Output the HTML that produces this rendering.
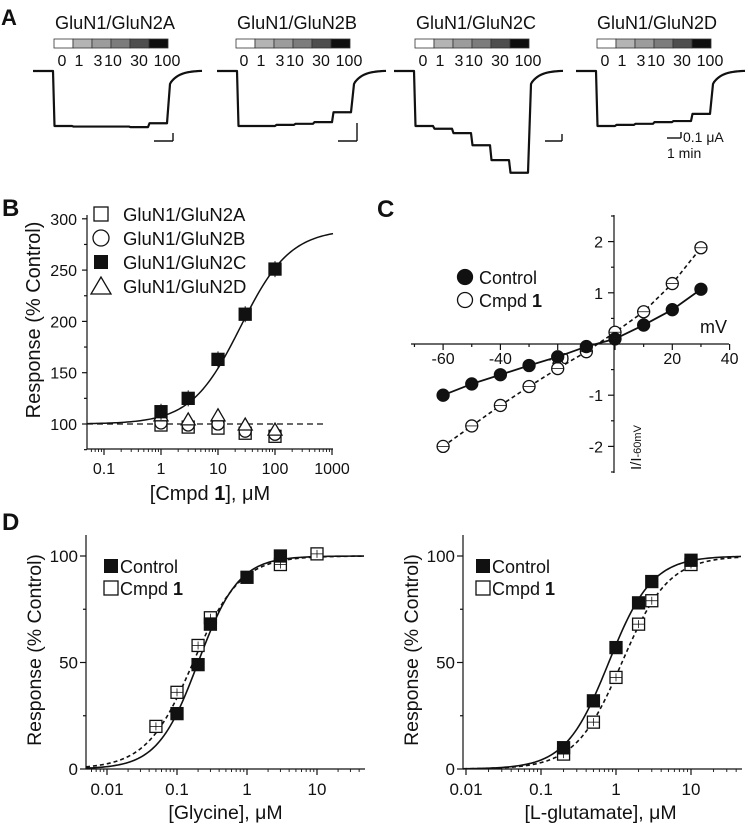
<!DOCTYPE html>
<html><head><meta charset="utf-8"><style>
body{margin:0;background:#fff}
svg{display:block;font-family:"Liberation Sans",Arial,sans-serif}
text{fill:#111}
</style></head><body>
<svg id="fig" width="748" height="827" viewBox="0 0 748 827"></svg>
<script>
// ---------- DATA ----------
const receptorNames=["GluN1/GluN2A","GluN1/GluN2B","GluN1/GluN2C","GluN1/GluN2D"];
const concLabels=["0","1","3","10","30","100"];
const traceLevels2A=[1,1.01,1.01,1.01,1.02,0.95];
const traceLevels2B=[1,1,0.98,0.96,0.93,0.75];
const traceLevels2C=[1,1.05,1.13,1.35,1.62,1.85];
const traceLevels2D=[1,0.98,0.96,0.93,0.91,0.78];

const doseB=[1,3,10,30,100];
const resp2A=[99,97,96,91,88];
const resp2B=[101,99,100,93,90];
const resp2C=[112,125,163,207,251];
const resp2D=[108,104,108,99,94];
const yTicksB=[100,150,200,250,300];
const xTicksB=[0.1,1,10,100,1000];
const xTickLabelsB=["0.1","1","10","100","1000"];
const fitB_top=290, fitB_ec50=25, fitB_n=1;

const voltC=[-60,-50,-40,-30,-20,-10,0,10,20,30];
const ivControl=[-1.0,-0.78,-0.6,-0.42,-0.25,-0.05,0.1,0.37,0.67,1.07];
const ivCmpd=[-2.0,-1.6,-1.2,-0.83,-0.48,-0.15,0.23,0.63,1.18,1.88];
const xTicksC=[-60,-40,-20,20,40];
const yTicksC=[-2,-1,1,2];

const glyConc=[0.1,0.2,0.3,1,3];
const glyControl=[26,49,68,90,100];
const glyCmpdConc=[0.05,0.1,0.2,0.3,3,10];
const glyCmpd=[20,36,58,71,96,101];
const gluConc=[0.2,0.5,1,2,3,10];
const gluControl=[10,32,57,78,88,98];
const gluCmpd=[7,22,43,68,79,96];
const fitGly=[[0.2,1.5],[0.17,1.3]];
const fitGlu=[[0.8,1.5],[1.2,1.4]];
const xTicksD=[0.01,0.1,1,10];
const xTickLabelsD=["0.01","0.1","1","10"];
const yTicksD=[0,50,100];

// ---------- HELPERS ----------
const NS="http://www.w3.org/2000/svg";
const svg=document.getElementById('fig');
function mk(tag,attrs,parent){const e=document.createElementNS(NS,tag);for(const k in attrs)e.setAttribute(k,attrs[k]);(parent||svg).appendChild(e);return e;}
function txt(s,x,y,size,anchor,parent,weight){const t=mk('text',{x:x,y:y,'font-size':size,'text-anchor':anchor||'start'},parent);if(weight)t.setAttribute('font-weight',weight);t.textContent=s;return t;}
function ln(x1,y1,x2,y2,parent,w,dash){const l=mk('line',{x1:x1,y1:y1,x2:x2,y2:y2,stroke:'#111','stroke-width':w||1.2},parent);if(dash)l.setAttribute('stroke-dasharray',dash);return l;}
function grp(){return mk('g',{});}
function sq(x,y,filled,parent){return mk('rect',{x:x-6,y:y-6,width:12,height:12,fill:filled?'#111':'#fff',stroke:'#111','stroke-width':1.3},parent);}
function circ(x,y,filled,parent,r){return mk('circle',{cx:x,cy:y,r:r||6,fill:filled?'#111':'#fff',stroke:'#111','stroke-width':1.3},parent);}
function tri(x,y,parent){return mk('polygon',{points:`${x},${y-7} ${x-7},${y+5} ${x+7},${y+5}`,fill:'#fff',stroke:'#111','stroke-width':1.3},parent);}
function hill(x,ec,n){return 1/(1+Math.pow(ec/x,n));}

// ---------- PANEL A ----------
const pa=grp();


txt("A",1,25,22,'start',pa,'bold');
const titleX=[55,237,416,597];
const barX=[54,236,415,597];
const traceStarts=[33,217,394,576];
const levelsA=[traceLevels2A,traceLevels2B,traceLevels2C,traceLevels2D];
const greys=['#fff','#b4b4b4','#9c9c9c','#7c7c7c','#4e4e4e','#0e0e0e'];
const labelOff=[8,25,44,59,85,113];
const yBase=71, amp=55, segW=19;
for(let p=0;p<4;p++){
  const t=txt(receptorNames[p],titleX[p],29,18,'start',pa);
  t.setAttribute('textLength','120');
  t.setAttribute('lengthAdjust','spacingAndGlyphs');
  
  
  for(let i=0;i<6;i++){
    const r=mk('rect',{x:barX[p]+i*19,y:39,width:19,height:9,fill:greys[i],stroke:'#333','stroke-width':0.8},pa);
    
    
    txt(concLabels[i],barX[p]+labelOff[i],66,16,'middle',pa);
  }
  const lv=levelsA[p];
  const x0=traceStarts[p], xd=x0+20;
  let d=`M${x0},${yBase} L${xd},${yBase}`;
  for(let i=0;i<6;i++){const y=yBase+lv[i]*amp;d+=` L${xd+i*segW+1.5},${y} L${xd+(i+1)*segW},${y}`;}
  const xe=xd+6*segW;
  d+=` L${xe+3},${yBase+13}`;
  for(let k=1;k<=32;k++){d+=` L${xe+3+k},${yBase+13*Math.exp(-k/9)-0.5}`;}
  const path=mk('path',{d:d,fill:'none',stroke:'#111','stroke-width':2.2,'stroke-linejoin':'round'},pa);
  
  
}
// scale bars
[[154,173,133],[338,357,123],[545,562,134]].forEach(s=>{ln(s[0],141,s[1],141,pa,1.4);ln(s[1],s[2],s[1],141,pa,1.4);});
ln(667,138,681,138,pa,1.4);ln(681,132,681,138,pa,1.4);
txt("0.1 μA",683,142,14,'start',pa);
txt("1 min",667,158,14,'start',pa);

// ---------- PANEL B ----------
const pb=grp();


const xB=v=>104+57*(Math.log10(v)+1);
const yB=v=>424-(v-100)*51.3/50;
txt("B",2,216,24,'start',pb,'bold');
ln(87,215,87,449,pb);ln(87,449,333,449,pb);
yTicksB.forEach(v=>{ln(82,yB(v),87,yB(v),pb);txt(String(v),77,yB(v)+6,16,'end',pb);});
[125,175,225,275].forEach(v=>ln(84,yB(v),87,yB(v),pb));
ln(84,yB(75),87,yB(75),pb);
xTicksB.forEach((v,i)=>{ln(xB(v),449,xB(v),455,pb);txt(xTickLabelsB[i],xB(v),474,16,'middle',pb);});
for(let e=-2;e<3;e++)for(let m=2;m<10;m++){const v=m*Math.pow(10,e);const x=xB(v);if(x>87&&x<333)ln(x,449,x,452,pb,0.9);}
const ylB=txt("Response (% Control)",0,0,20,'middle',pb);ylB.setAttribute('transform','translate(40,320) rotate(-90)');
const xlB=txt("",210,500,20,'middle',pb);xlB.innerHTML='[Cmpd <tspan font-weight="bold">1</tspan>], μM';
ln(87,yB(100),327,yB(100),pb,1.2,'6,4');
let dB='';for(let x=87;x<=333;x+=2){const v=Math.pow(10,(x-104)/57-1);const r=100+(fitB_top-100)*hill(v,fitB_ec50,fitB_n);dB+=(dB?' L':'M')+x+','+yB(r);}
const fitBp=mk('path',{d:dB,fill:'none',stroke:'#111','stroke-width':1.5},pb);


doseB.forEach((c,i)=>{
  const x=xB(c);
  sq(x,yB(resp2A[i]),false,pb);
  circ(x,yB(resp2B[i]),false,pb);
  tri(x,yB(resp2D[i]),pb);
  ln(x,yB(resp2C[i])-8,x,yB(resp2C[i])+8,pb,1);
  sq(x,yB(resp2C[i]),true,pb);
});
const legB=[["GluN1/GluN2A",0],["GluN1/GluN2B",1],["GluN1/GluN2C",2],["GluN1/GluN2D",3]];
legB.forEach((l,i)=>{const y=214+i*24;const mx=101;
  if(i==0)mk('rect',{x:mx-7,y:y-7,width:14,height:14,fill:'#fff',stroke:'#111','stroke-width':1.3},pb);
  else if(i==1)circ(mx,y,false,pb,8);
  else if(i==2)mk('rect',{x:mx-7,y:y-7,width:14,height:14,fill:'#111'},pb);
  else mk('polygon',{points:`${mx},${y-9} ${mx-10},${y+8} ${mx+10},${y+8}`,fill:'#fff',stroke:'#111','stroke-width':1.3},pb);
  const t=txt(l[0],123,y+7,18.5,'start',pb);
  
  
});

// ---------- PANEL C ----------
const pc=grp();


const xC=v=>615+v*2.865;
const yC=v=>344-v*51.2;
txt("C",377,217,24,'start',pc,'bold');
ln(411,344,729,344,pc);ln(614,215,614,473,pc);
for(let v=-70;v<=40;v+=10){ln(xC(v),344,xC(v),(v%20==0)?350:347,pc);}
xTicksC.forEach(v=>txt(String(v),xC(v),364,16,'middle',pc));
for(let v=-2.5;v<=2.5;v+=0.5){if(Math.abs(v)<0.01)continue;ln(Number.isInteger(v)?608:611,yC(v),614,yC(v),pc);}
yTicksC.forEach(v=>txt(String(v),603,yC(v)+6,16,'end',pc));
txt("mV",700,333,18,'start',pc);
const ylC=txt("I/I",0,0,15,'start',pc);ylC.innerHTML='I/I<tspan font-size="11">-60mV</tspan>';ylC.setAttribute('transform','translate(641,470) rotate(-90)');
let dc1='',dc2='';
voltC.forEach((v,i)=>{dc1+=(i?' L':'M')+xC(v)+','+yC(ivControl[i]);dc2+=(i?' L':'M')+xC(v)+','+yC(ivCmpd[i]);});
const lc2=mk('path',{d:dc2,fill:'none',stroke:'#111','stroke-width':1.6,'stroke-dasharray':'4,3'},pc);


const lc1=mk('path',{d:dc1,fill:'none',stroke:'#111','stroke-width':1.8},pc);


voltC.forEach((v,i)=>{circ(xC(v),yC(ivCmpd[i]),false,pc);ln(xC(v)-6,yC(ivCmpd[i]),xC(v)+6,yC(ivCmpd[i]),pc,0.8);});
voltC.forEach((v,i)=>circ(xC(v),yC(ivControl[i]),true,pc));
circ(465,277,true,pc,7.5);circ(465,300,false,pc,7.5);
txt("Control",479,284,18,'start',pc);
const cm=txt("",479,307,18,'start',pc);cm.innerHTML='Cmpd <tspan font-weight="bold">1</tspan>';

// ---------- PANEL D ----------
const yD=v=>769-v*2.13;
function panelD(name,x0axis,xEnd,xf,xlab,conc1,ctrl,conc2,cmpd,fits,legX){
  const g=grp();
  
  
  ln(x0axis,535,x0axis,769,g);ln(x0axis,769,xEnd,769,g);
  yTicksD.forEach(v=>{ln(x0axis-6,yD(v),x0axis,yD(v),g);txt(String(v),x0axis-8,yD(v)+6,17,'end',g);});
  [25,75].forEach(v=>ln(x0axis-3,yD(v),x0axis,yD(v),g));
  xTicksD.forEach((v,i)=>{ln(xf(v),769,xf(v),775,g);txt(xTickLabelsD[i],xf(v),795,17,'middle',g);});
  for(let e=-3;e<2;e++)for(let m=2;m<10;m++){const x=xf(m*Math.pow(10,e));if(x>x0axis&&x<xEnd)ln(x,769,x,772,g,0.9);}
  const yl=txt("Response (% Control)",0,0,19.5,'middle',g);yl.setAttribute('transform',`translate(${x0axis-45},650) rotate(-90)`);
  txt(xlab,(x0axis+xEnd)/2+(x0axis>400?-2:0),819,19.5,'middle',g);
  const a=xf(1), b=xf(10)-xf(1);
  fits.forEach((f,k)=>{let d='';
    for(let x=x0axis;x<=xEnd;x+=2){const v=Math.pow(10,(x-a)/b);d+=(d?' L':'M')+x+','+yD(100*hill(v,f[0],f[1]));}
    const p=mk('path',{d:d,fill:'none',stroke:'#111','stroke-width':1.6},g);
    if(k==1)p.setAttribute('stroke-dasharray','4,3');
    
    
  });
  conc2.forEach((c,i)=>{sq(xf(c),yD(cmpd[i]),false,g);ln(xf(c),yD(cmpd[i])-4,xf(c),yD(cmpd[i])+4,g,0.8);ln(xf(c)-6,yD(cmpd[i]),xf(c)+6,yD(cmpd[i]),g,0.8);});
  conc1.forEach((c,i)=>sq(xf(c),yD(ctrl[i]),true,g));
  mk('rect',{x:legX-6,y:559,width:14,height:14,fill:'#111'},g);
  mk('rect',{x:legX-6,y:581,width:14,height:14,fill:'#fff',stroke:'#111','stroke-width':1.3},g);
  txt("Control",legX+10,573,18,'start',g);
  const t=txt("",legX+10,595,18,'start',g);t.innerHTML='Cmpd <tspan font-weight="bold">1</tspan>';
}
txt("D",2,530,24,'start',svg,'bold');
panelD('panel-d-glycine',86,365,v=>247+70*Math.log10(v),"[Glycine], μM",glyConc,glyControl,glyCmpdConc,glyCmpd,fitGly,110);
panelD('panel-d-glutamate',463,742,v=>616+75*Math.log10(v),"[L-glutamate], μM",gluConc,gluControl,gluConc,gluCmpd,fitGlu,482);
</script>
</body></html>
